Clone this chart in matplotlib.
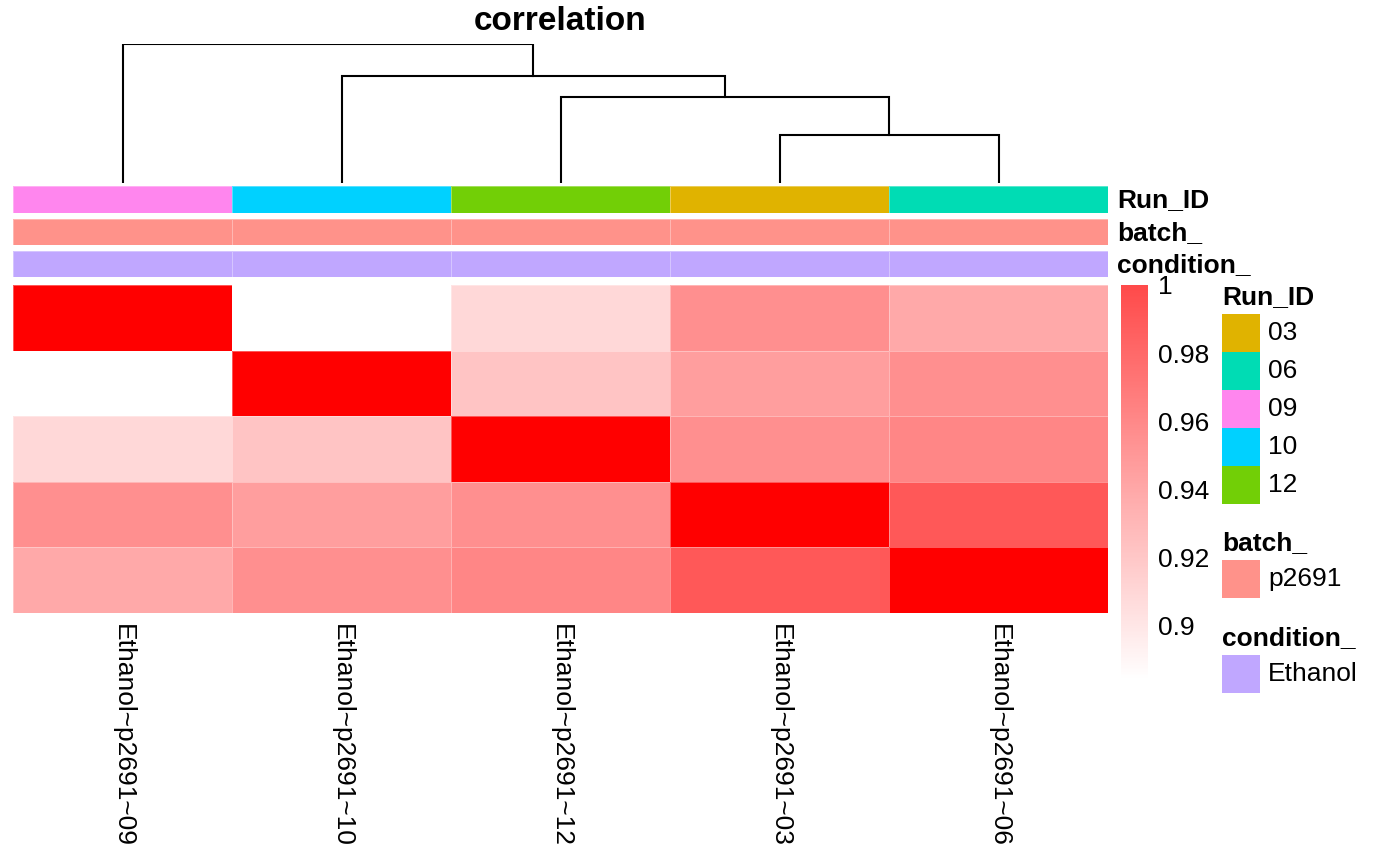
import numpy as np
import matplotlib
matplotlib.use("Agg")
import matplotlib.pyplot as plt
from matplotlib.colors import LinearSegmentedColormap, ListedColormap, Normalize
from matplotlib.cm import ScalarMappable
from matplotlib.patches import Rectangle

plt.rcParams['font.family'] = ['Liberation Sans', 'DejaVu Sans']

# samples in dendrogram order
samples = ["Ethanol~p2691~09", "Ethanol~p2691~10", "Ethanol~p2691~12",
           "Ethanol~p2691~03", "Ethanol~p2691~06"]
run_ids = ["09", "10", "12", "03", "06"]
batches = ["p2691"] * 5
conditions = ["Ethanol"] * 5

corr = np.array([
    [1.000, 0.884, 0.902, 0.935, 0.923],
    [0.884, 1.000, 0.911, 0.928, 0.935],
    [0.902, 0.911, 1.000, 0.935, 0.939],
    [0.935, 0.928, 0.935, 1.000, 0.960],
    [0.923, 0.935, 0.939, 0.960, 1.000],
])

# merges: (left, right, height), nodes numbered after leaves
merges = [(3, 4, 0.345), (2, 5, 0.619), (1, 6, 0.770), (0, 7, 1.000)]

run_levels = ["03", "06", "09", "10", "12"]
run_colors = ["#E0B300", "#00DCB4", "#FF86EE", "#00D1FF", "#72CF06"]
batch_levels = ["p2691"]
batch_colors = ["#FF928A"]
cond_levels = ["Ethanol"]
cond_colors = ["#C0A7FF"]

cbar_ticks = [1.0, 0.98, 0.96, 0.94, 0.92, 0.90]
vmin, vmax = 0.884, 1.0

W, H = 1400, 865
fig = plt.figure(figsize=(W / 100, H / 100), dpi=100)


def px(x0, y0, x1, y1):
    return [x0 / W, 1 - y1 / H, (x1 - x0) / W, (y1 - y0) / H]


LEFT, RIGHT = 13, 1108
n = len(samples)

# ---- heatmap
ax = fig.add_axes(px(LEFT, 285, RIGHT, 613))
cmap = LinearSegmentedColormap.from_list("wr", ["white", "red"])
ax.pcolormesh(corr, cmap=cmap, vmin=vmin, vmax=vmax,
              edgecolors=(1, 1, 1, 0.35), linewidth=0.6)
ax.set_xlim(0, n)
ax.set_ylim(n, 0)
ax.set_yticks([])
ax.set_xticks(np.arange(n) + 0.5)
ax.set_xticklabels(samples, rotation=-90, fontsize=19, va='top')
ax.tick_params(axis='x', length=0, pad=8)
for s in ax.spines.values():
    s.set_visible(False)

# ---- annotation tracks
tracks = [("Run_ID", run_ids, run_levels, run_colors, 186, 213),
          ("batch_", batches, batch_levels, batch_colors, 219, 245),
          ("condition_", conditions, cond_levels, cond_colors, 251, 277)]
for name, vals, levels, cols, y0, y1 in tracks:
    a = fig.add_axes(px(LEFT, y0, RIGHT, y1))
    codes = np.array([[levels.index(v) for v in vals]])
    a.pcolormesh(codes, cmap=ListedColormap(cols), vmin=-0.5, vmax=len(cols) - 0.5,
                 edgecolors=(1, 1, 1, 0.35), linewidth=0.6)
    a.set_xlim(0, n)
    a.axis('off')
    fig.text((RIGHT + 9) / W, 1 - ((y0 + y1) / 2 + 1) / H, name,
             fontsize=19, fontweight='bold', va='center', ha='left')

# ---- dendrogram
dax = fig.add_axes(px(LEFT, 44, RIGHT, 183))
pos = {i: i + 0.5 for i in range(n)}
hgt = {i: 0.0 for i in range(n)}
for k, (a_, b_, h) in enumerate(merges):
    node = n + k
    xa, xb = pos[a_], pos[b_]
    dax.plot([xa, xa, xb, xb], [hgt[a_], h, h, hgt[b_]], color='black', lw=1.5,
             solid_joinstyle='miter')
    pos[node] = (xa + xb) / 2
    hgt[node] = h
dax.set_xlim(0, n)
dax.set_ylim(0, 1.0)
dax.axis('off')

fig.text((LEFT + RIGHT) / 2 / W, 1 - 21 / H, "correlation", fontsize=24,
         fontweight='bold', ha='center', va='center')

# ---- colorbar
cax = fig.add_axes(px(1121, 285, 1148, 680))
cb_cmap = LinearSegmentedColormap.from_list("wr2", ["white", "#FF4A4A"])
cb = fig.colorbar(ScalarMappable(Normalize(vmin, vmax), cb_cmap), cax=cax)
cb.outline.set_visible(False)
cb.set_ticks(cbar_ticks)
cb.set_ticklabels(["1", "0.98", "0.96", "0.94", "0.92", "0.9"])
cax.tick_params(length=0, pad=7, labelsize=19)

# ---- discrete legends
lax = fig.add_axes([0, 0, 1, 1])
lax.set_xlim(0, W)
lax.set_ylim(H, 0)
lax.axis('off')

legends = [("Run_ID", run_levels, run_colors, 297),
           ("batch_", batch_levels, batch_colors, 543),
           ("condition_", cond_levels, cond_colors, 638)]
sw = 38
for title, levels, cols, ty in legends:
    lax.text(1222, ty, title, fontsize=19, fontweight='bold', va='center', ha='left')
    top = ty + 17
    for i, (lv, c) in enumerate(zip(levels, cols)):
        lax.add_patch(Rectangle((1222, top + i * sw), 38, sw, color=c, lw=0))
        lax.text(1268, top + i * sw + sw / 2, lv, fontsize=19, va='center', ha='left')

fig.savefig("out.png", dpi=100)
